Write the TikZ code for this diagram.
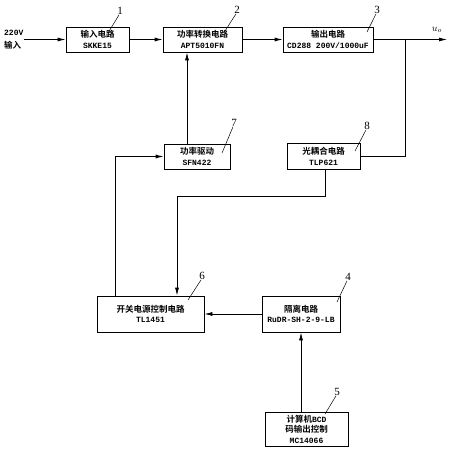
\documentclass[tikz,border=0pt]{standalone}
\usepackage{fontspec}
\setmainfont{Liberation Serif}
\newfontfamily\cjk{Noto Sans CJK SC}[BoldFont={Noto Sans CJK SC Bold}]
\newfontfamily\mono{Liberation Mono}
\usetikzlibrary{arrows.meta,calc}
\begin{document}
\begin{tikzpicture}[x=1pt,y=-1pt,
 blk/.style={draw,line width=0.8pt,inner sep=0pt,align=center,font=\fontsize{8.5}{10.5}\selectfont\bfseries},
 mn/.style={font=\fontsize{8}{10.5}\selectfont\mono\bfseries},
 arr/.style={line width=0.8pt,-{Latex[length=8pt,width=4pt]}},
 ln/.style={line width=0.8pt},
 num/.style={font=\fontsize{11}{11}\selectfont,inner sep=0pt},
 lead/.style={line width=0.5pt},
 cj/.style={font=\fontsize{8.5}{10}\selectfont\cjk\bfseries}]
\newcommand\mtxt[1]{{\fontsize{8}{10.5}\selectfont\mono\bfseries #1}}
\useasboundingbox (0,0) rectangle (449,450);
% blocks
\node[blk,minimum width=63pt,minimum height=25pt] (b1) at (97.5,39.5) {{\cjk 输入电路}\\\mtxt{SKKE15}};
\node[blk,minimum width=79pt,minimum height=25pt] (b2) at (202.5,39.5) {{\cjk 功率转换电路}\\\mtxt{APT5010FN}};
\node[blk,minimum width=90pt,minimum height=25pt] (b3) at (328,39.5) {{\cjk 输出电路}\\\mtxt{CD288 200V/1000uF}};
\node[blk,minimum width=66pt,minimum height=25pt] (b7) at (197,156.5) {{\cjk 功率驱动}\\\mtxt{SFN422}};
\node[blk,minimum width=73pt,minimum height=26pt] (b8) at (323.5,156.5) {{\cjk 光耦合电路}\\\mtxt{TLP621}};
\node[blk,minimum width=107pt,minimum height=36pt] (b6) at (150.5,314) {{\cjk 开关电源控制电路}\\\mtxt{TL1451}};
\node[blk,minimum width=78pt,minimum height=36pt] (b4) at (301,314) {{\cjk 隔离电路}\\\mtxt{RuDR-SH-2-9-LB}};
\node[blk,minimum width=83pt,minimum height=34pt] (b5) at (306.5,429) {{\cjk 计算机}\mtxt{BCD}\\{\cjk 码输出控制}\\\mtxt{MC14066}};
% input
\node[anchor=west,inner sep=0pt,mn] (vin) at (4,33) {220V};
\node[anchor=west,inner sep=0pt,cj] (tin) at (4,45.5) {输入};
\coordinate (in) at (24,39.5);
\draw[arr] (in) -- (b1.west);
\draw[arr] (b1.east) -- (b2.west);
\draw[arr] (b2.east) -- (b3.west);
% output
\coordinate (out) at (447,39.5);
\coordinate (tap) at (405,39.5);
\draw[arr] (b3.east) -- (out);
\node[inner sep=0pt,font=\fontsize{10}{10}\selectfont] (uo) at (437,30) {$u_o$};
\draw[ln] (tap) |- (b8.east);
% feedback
\draw[arr] ([xshift=-10pt]b7.north) -- ([xshift=-10pt]b7.north |- b2.south);
\draw[arr] ([xshift=-35.5pt]b6.north) |- (b7.west);
\coordinate (j1) at (177,196);
\draw[arr] ([xshift=1.5pt]b8.south) |- (j1) -- (j1 |- b6.north);
\draw[arr] (b4.west) -- (b6.east);
\draw[arr] (b5.north -| b4.south) -- (b4.south);
% number labels
\node[num] (n1) at (120,11) {1};
\node[num] (n2) at (237,10) {2};
\node[num] (n3) at (377,10) {3};
\node[num] (n7) at (234,123) {7};
\node[num] (n8) at (367,126) {8};
\node[num] (n6) at (202,276) {6};
\node[num] (n4) at (348,277) {4};
\node[num] (n5) at (337,392) {5};
\draw[lead] ([xshift=-1pt]n1.south) -- (108,33);
\draw[lead] ([xshift=-1pt]n2.south) -- (225,31);
\draw[lead] ([xshift=-1pt]n3.south) -- (367,32);
\draw[lead] ([xshift=-1pt]n7.south) -- (222,153);
\draw[lead] ([xshift=-1pt]n8.south) -- (355,151);
\draw[lead] ([xshift=-1pt]n6.south) -- (188,300);
\draw[lead] ([xshift=-1pt]n4.south) -- (337,302);
\draw[lead] ([xshift=-1pt]n5.south) -- (325,414);
\end{tikzpicture}
\end{document}
